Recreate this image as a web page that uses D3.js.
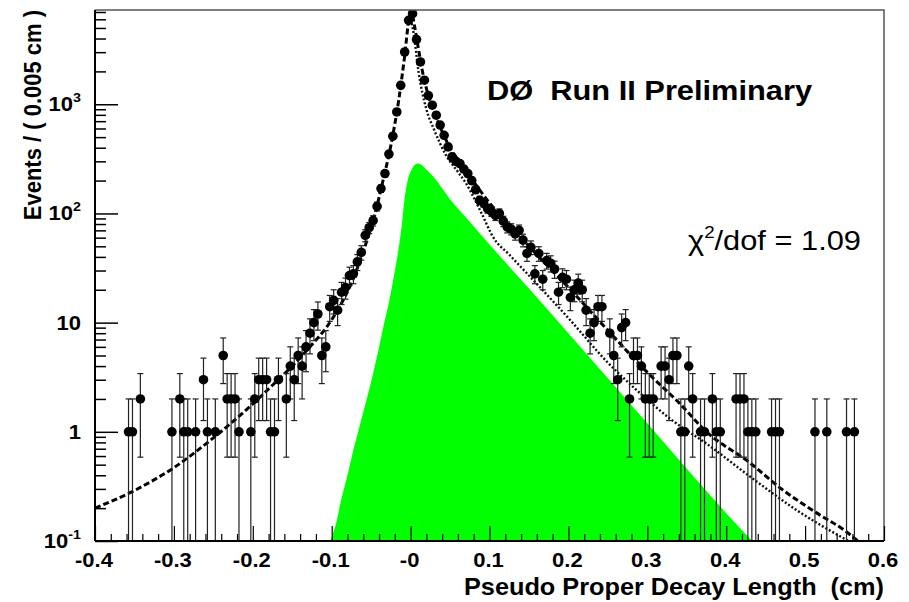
<!DOCTYPE html>
<html>
<head>
<meta charset="utf-8">
<script src="https://cdn.jsdelivr.net/npm/d3@7"></script>
<style>
body{margin:0;background:#fff}
text{font-family:"Liberation Sans",Arial,Helvetica,sans-serif;fill:#000}
</style>
</head>
<body>
<svg id="chart" width="909" height="602"></svg>
<script>
// bin centres (cm), 0.005 cm bins, and entries in each bin (empty bins left out)
const binX = [
  -0.3575,-0.3525,-0.3425,-0.3025,-0.2925,-0.2875,-0.2825,-0.2725,-0.2625,-0.2575,
  -0.2475,-0.2375,-0.2325,-0.2275,-0.2225,-0.2175,-0.2025,-0.1975,-0.1925,-0.1875,
  -0.1825,-0.1775,-0.1725,-0.1675,-0.1575,-0.1525,-0.1475,-0.1425,-0.1375,-0.1325,
  -0.1275,-0.1225,-0.1175,-0.1125,-0.1075,-0.1025,-0.0975,-0.0925,-0.0875,-0.0825,
  -0.0775,-0.0725,-0.0675,-0.0625,-0.0575,-0.0525,-0.0475,-0.0425,-0.0375,-0.0325,
  -0.0275,-0.0225,-0.0175,-0.0125,-0.0075,-0.0025,0.0025,0.0075,0.0125,0.0175,
  0.0225,0.0275,0.0325,0.0375,0.0425,0.0475,0.0525,0.0575,0.0625,0.0675,
  0.0725,0.0775,0.0825,0.0875,0.0925,0.0975,0.1025,0.1075,0.1125,0.1175,
  0.1225,0.1275,0.1325,0.1375,0.1425,0.1475,0.1525,0.1575,0.1625,0.1675,
  0.1725,0.1775,0.1825,0.1875,0.1925,0.1975,0.2025,0.2075,0.2125,0.2175,
  0.2225,0.2275,0.2325,0.2375,0.2425,0.2525,0.2575,0.2625,0.2675,0.2725,
  0.2775,0.2825,0.2875,0.2925,0.2975,0.3025,0.3075,0.3175,0.3225,0.3275,
  0.3325,0.3375,0.3425,0.3475,0.3525,0.3575,0.3675,0.3725,0.3825,0.3875,
  0.3925,0.4125,0.4175,0.4225,0.4275,0.4325,0.4375,0.4575,0.4625,0.4675,
  0.5125,0.5275,0.5525,0.5625
]
const counts = [
  1,1,2,1,2,1,1,1,3,1,
  1,5,2,2,2,1,1,2,3,3,
  3,1,1,3,2,4,3,5,4,6,
  8,10,12,5,6,14,16,13,19,21,
  27,28,36,44,63,74,86,116,169,232,
  350,510,850,1490,3010,5870,6760,3910,2440,1660,
  1200,980,794,645,520,407,330,300,286,255,
  232,200,165,132,125,111,104,96,100,85,
  75,72,65,70,57,43,49,28,43,25,
  37,35,31,19,26,25,17,20,23,20,
  13,8,10,14,14,8,5,3,9,10,
  2,5,5,4,2,2,2,4,4,3,
  5,5,1,1,4,2,1,1,2,1,
  1,2,2,2,1,1,1,1,1,1,
  1,1,1,1
]

// total fit, dashed
const totalX = [-0.4,-0.35,-0.3,-0.25,-0.2,-0.17,-0.15,-0.125,-0.106,-0.09,-0.075,-0.06,-0.045,-0.035,-0.025,-0.015,-0.008,-0.002,0.001,
  0.005,0.01,0.015,0.02,0.03,0.04,0.05,0.06,0.08,0.1,0.125,0.15,0.2,0.25,0.3,0.34,0.375,0.43,0.47,0.515,0.55,0.567]
const totalY = [0.2,0.29,0.47,0.88,1.8,2.9,4.0,6.3,9.2,14,23,45,100,200,420,1100,2600,6000,7000,
  5200,3200,2000,1400,850,560,400,310,195,125,80,50,21,8.5,3.5,1.85,1.0,0.52,0.3,0.18,0.125,0.1]

// dotted component
const dotX = [-0.001,0.004,0.01,0.02,0.03,0.045,0.06,0.07,0.09,0.105,0.125,0.15,0.2,0.25,0.2865,0.33,0.375,0.43,0.49,0.555]
const dotY = [6500,4400,2000,900,580,340,240,190,100,60,42,27,11,4.3,2.41,1.3,0.78,0.39,0.19,0.1]

// green component
const greenX = [-0.102,-0.095,-0.088,-0.08,-0.0725,-0.065,-0.056,-0.048,-0.0408,-0.034,-0.0269,-0.021,-0.0155,-0.011,-0.0079,-0.004,
  0.001,0.006,0.01,0.015,0.02,0.03,0.05,0.075,0.1,0.15,0.2,0.25,0.3,0.35,0.4,0.433]
const greenY = [0.1,0.14,0.237,0.4,0.68,1.1,1.95,3.3,5.6,9.5,16,27,46,80,132,195,
  250,280,287,275,252,212,135,84,52,20.5,8,3.1,1.2,0.46,0.18,0.1]

const xTicks = [-0.4,-0.3,-0.2,-0.1,0,0.1,0.2,0.3,0.4,0.5,0.6]
const xTickLabels = ['-0.4','-0.3','-0.2','-0.1','-0','0.1','0.2','0.3','0.4','0.5','0.6']
const yTicks = [0.1,1,10,100,1000]
const yTickBase = ['10','1','10','10','10']
const yTickExp = ['-1','','','2','3']

const margin = { left: 95, right: 25, top: 10, bottom: 61 }
const W = 909, H = 602
const stretch = 'scale(1.1,1)'

const svg = d3.select('#chart')
const x = d3.scaleLinear().domain([-0.4, 0.6]).range([margin.left, W - margin.right])
const y = d3.scaleLog().domain([0.1, 7300]).range([H - margin.bottom, margin.top])
const [x0, x1] = x.range()
const [yb, yt] = y.range()

svg.append('clipPath').attr('id', 'frame')
  .append('rect').attr('x', x0).attr('y', yt).attr('width', x1 - x0).attr('height', yb - yt)

const plot = svg.append('g').attr('clip-path', 'url(#frame)')

const line = d3.line().x(d => x(d[0])).y(d => y(d[1])).curve(d3.curveMonotoneX)

// green area
plot.append('path')
  .attr('d', line(greenX.map((d, i) => [d, greenY[i]])) + 'Z')
  .attr('fill', '#00ff00')

// fit curves
plot.append('path')
  .attr('d', line(dotX.map((d, i) => [d, dotY[i]])))
  .attr('fill', 'none').attr('stroke', '#111').attr('stroke-width', 2.4)
  .attr('stroke-dasharray', '2,2')
plot.append('path')
  .attr('d', line(totalX.map((d, i) => [d, totalY[i]])))
  .attr('fill', 'none').attr('stroke', '#000').attr('stroke-width', 3)
  .attr('stroke-dasharray', '6,3')

// data with sqrt(N) errors
const pts = binX.map((d, i) => ({ x: d, n: counts[i] }))
const bars = plot.append('g').attr('stroke', '#222').attr('stroke-width', 1.2)
pts.forEach(p => {
  const e = Math.sqrt(p.n)
  const px = x(p.x)
  const top = y(p.n + e)
  const bot = p.n - e > 0 ? y(p.n - e) : yb + 5
  bars.append('line').attr('x1', px).attr('x2', px).attr('y1', top).attr('y2', bot)
  bars.append('line').attr('x1', px - 3).attr('x2', px + 3).attr('y1', top).attr('y2', top)
  if (p.n - e > 0) bars.append('line').attr('x1', px - 3).attr('x2', px + 3).attr('y1', bot).attr('y2', bot)
})
plot.append('g').selectAll('circle').data(pts).join('circle')
  .attr('cx', d => x(d.x)).attr('cy', d => y(d.n)).attr('r', 4.8).attr('fill', '#000')

// frame
svg.append('path')
  .attr('d', `M${x0},${yt}H${x1}V${yb}`)
  .attr('fill', 'none').attr('stroke', '#555').attr('stroke-width', 1.5)

// x axis
const xMinor = d3.range(-0.4, 0.6001, 0.02).filter(v => Math.abs(v * 10 - Math.round(v * 10)) > 1e-6)
const xAxis = svg.append('g').attr('transform', `translate(0,${yb})`)
xAxis.call(d3.axisBottom(x).tickValues(xTicks).tickSize(-15).tickFormat(''))
xAxis.append('g').call(d3.axisBottom(x).tickValues(xMinor).tickSize(-7).tickFormat(''))
xAxis.selectAll('.domain').remove()
xAxis.selectAll('line').attr('stroke', '#000').attr('stroke-width', 1.2)
svg.append('line').attr('x1', x0).attr('x2', x1).attr('y1', yb).attr('y2', yb)
  .attr('stroke', '#000').attr('stroke-width', 2)
xTicks.forEach((t, i) => {
  svg.append('text')
    .attr('transform', `translate(${x(t) - 1},${yb + 26}) ${stretch}`)
    .attr('text-anchor', 'middle').attr('font-weight', 'bold').attr('font-size', 20)
    .text(xTickLabels[i])
})

// y axis
const yMinor = []
yTicks.forEach(d => d3.range(2, 10).forEach(k => { if (d * k < 7300) yMinor.push(d * k) }))
const yAxis = svg.append('g').attr('transform', `translate(${x0},0)`)
yAxis.call(d3.axisLeft(y).tickValues(yTicks).tickSize(-23).tickFormat(''))
yAxis.append('g').call(d3.axisLeft(y).tickValues(yMinor).tickSize(-11).tickFormat(''))
yAxis.selectAll('.domain').remove()
yAxis.selectAll('line').attr('stroke', '#000').attr('stroke-width', 1.5)
svg.append('line').attr('x1', x0).attr('x2', x0).attr('y1', yt).attr('y2', yb)
  .attr('stroke', '#000').attr('stroke-width', 2)
yTicks.forEach((t, i) => {
  const tx = svg.append('text')
    .attr('transform', `translate(81,${y(t) + 7}) ${stretch}`)
    .attr('text-anchor', 'end').attr('font-weight', 'bold').attr('font-size', 20)
  tx.append('tspan').text(yTickBase[i])
  if (yTickExp[i]) tx.append('tspan').attr('dy', -9).attr('font-size', 13).text(yTickExp[i])
})

// titles
svg.append('text')
  .attr('transform', `translate(41,10) ${stretch} rotate(-90)`)
  .attr('text-anchor', 'end').attr('font-weight', 'bold').attr('font-size', 22)
  .style('white-space', 'pre')
  .text('Events / ( 0.005 cm )')
svg.append('text')
  .attr('transform', `translate(884,595) ${stretch}`)
  .attr('text-anchor', 'end').attr('font-weight', 'bold').attr('font-size', 23)
  .style('white-space', 'pre')
  .text('Pseudo Proper Decay Length  (cm)')
svg.append('text')
  .attr('transform', `translate(487,100) ${stretch}`)
  .attr('font-weight', 'bold').attr('font-size', 28)
  .style('white-space', 'pre')
  .text('DØ  Run II Preliminary')
const chi = svg.append('text')
  .attr('transform', `translate(688,250) ${stretch}`)
  .attr('font-size', 28)
chi.append('tspan').text('χ')
chi.append('tspan').attr('dy', -12).attr('font-size', 17).text('2')
chi.append('tspan').attr('dy', 12).text('/dof = 1.09')
</script>
</body>
</html>
